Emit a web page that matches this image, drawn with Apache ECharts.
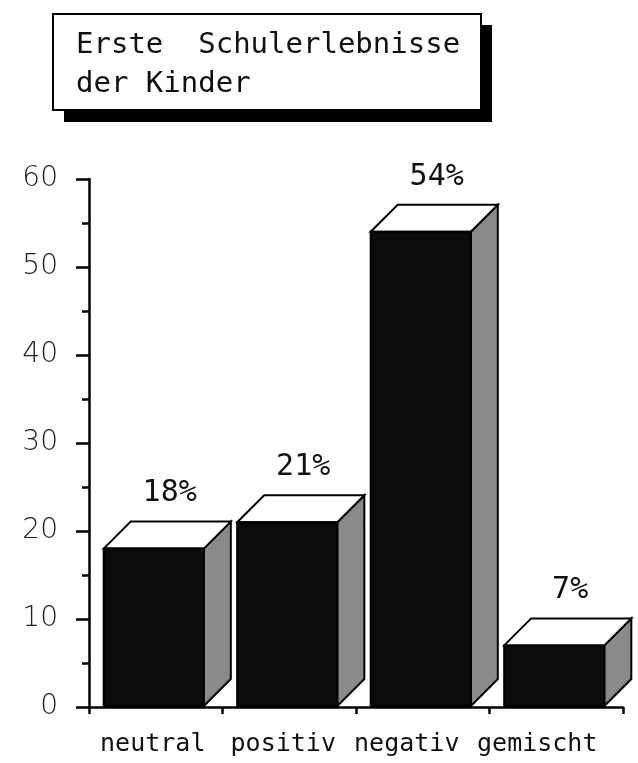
<!DOCTYPE html>
<html>
<head>
<meta charset="utf-8">
<script src="https://cdn.jsdelivr.net/npm/echarts@6/dist/echarts.min.js"></script>
<style>
  html, body { margin: 0; padding: 0; background: #fff; }
  #chart { width: 638px; height: 763px; }
</style>
</head>
<body>
<div id="chart"></div>
<script>
// Erste Schulerlebnisse der Kinder
const titleLines = ["Erste  Schulerlebnisse", "der Kinder"];
const categories = ["neutral", "positiv", "negativ", "gemischt"];
const values = [18, 21, 54, 7];
const percentLabels = ["18%", "21%", "54%", "7%"];

const DEPTH = 27; // 3d offset of the bars
const monoFont = "DejaVu Sans Mono";

const myChart = echarts.init(document.getElementById("chart"));

// small per label shift, the old labels are not quite centred
const labelShift = [3, 6, 16, 19];
const rich = {};
labelShift.forEach((s, i) => {
  rich["c" + i] = {
    fontFamily: monoFont,
    fontSize: 25,
    color: "#111",
    padding: [0, s * 2, 0, 0]
  };
});

function renderBar(params, api) {
  const i = api.value(0);
  const top = api.coord([i, api.value(1)]);
  const base = api.coord([i, 0]);
  const band = api.size([1, 0])[0];
  const w = band * 0.75;
  const fl = top[0] - band / 2 + band * 0.11;
  const fr = fl + w;
  const ty = top[1];
  const by = base[1] - 1;
  const line = { stroke: "#000", lineWidth: 2, lineJoin: "miter" };
  return {
    type: "group",
    children: [
      {
        type: "polygon",
        shape: { points: [[fr, ty], [fr + DEPTH, ty - DEPTH], [fr + DEPTH, by - DEPTH], [fr, by]] },
        style: Object.assign({ fill: "#8a8a8a" }, line)
      },
      {
        type: "polygon",
        shape: { points: [[fl, ty], [fl + DEPTH, ty - DEPTH], [fr + DEPTH, ty - DEPTH], [fr, ty]] },
        style: Object.assign({ fill: "#fff" }, line)
      },
      {
        type: "rect",
        shape: { x: fl, y: ty, width: w, height: by - ty },
        style: Object.assign({ fill: "#0b0b0b" }, line)
      },
      {
        type: "text",
        x: fl + 66,
        y: ty - DEPTH - 28,
        style: {
          text: percentLabels[i],
          fontFamily: monoFont,
          fontSize: 30,
          fill: "#111",
          align: "center",
          verticalAlign: "middle"
        }
      }
    ]
  };
}

let option = {
  backgroundColor: "#fff",
  animation: false,
  grid: {
    left: 89,
    right: 15,
    top: 179,
    bottom: 56
  },
  graphic: [
    {
      type: "rect",
      shape: { x: 64, y: 25, width: 428, height: 97 },
      style: { fill: "#000" }
    },
    {
      type: "rect",
      shape: { x: 53, y: 14, width: 428, height: 96 },
      style: { fill: "#fff", stroke: "#000", lineWidth: 2 }
    },
    {
      type: "text",
      left: 76,
      top: 26,
      style: {
        text: titleLines.join("\n"),
        fontFamily: monoFont,
        fontSize: 29,
        lineHeight: 39,
        fill: "#111"
      }
    }
  ],
  xAxis: {
    type: "category",
    data: categories,
    boundaryGap: true,
    offset: 2,
    axisLine: { lineStyle: { color: "#000", width: 2.5 } },
    axisTick: { show: true, length: 7, lineStyle: { color: "#000", width: 2.5 } },
    axisLabel: {
      margin: 23,
      interval: 0,
      formatter: (v, idx) => "{c" + idx + "|" + v + "}",
      rich: rich
    }
  },
  yAxis: {
    type: "value",
    min: 0,
    max: 60,
    interval: 10,
    axisLine: { show: true, lineStyle: { color: "#000", width: 2.5 } },
    axisTick: { show: true, length: 13, lineStyle: { color: "#000", width: 2.5 } },
    minorTick: { show: true, splitNumber: 2, length: 7, lineStyle: { color: "#000", width: 2.5 } },
    splitLine: { show: false },
    axisLabel: {
      margin: 31,
      fontFamily: "DejaVu Sans",
      fontWeight: 200,
      fontSize: 28,
      color: "#222"
    }
  },
  series: [
    {
      type: "custom",
      renderItem: renderBar,
      clip: false,
      data: values.map((v, i) => [i, v])
    }
  ]
};

myChart.setOption(option);
</script>
</body>
</html>
